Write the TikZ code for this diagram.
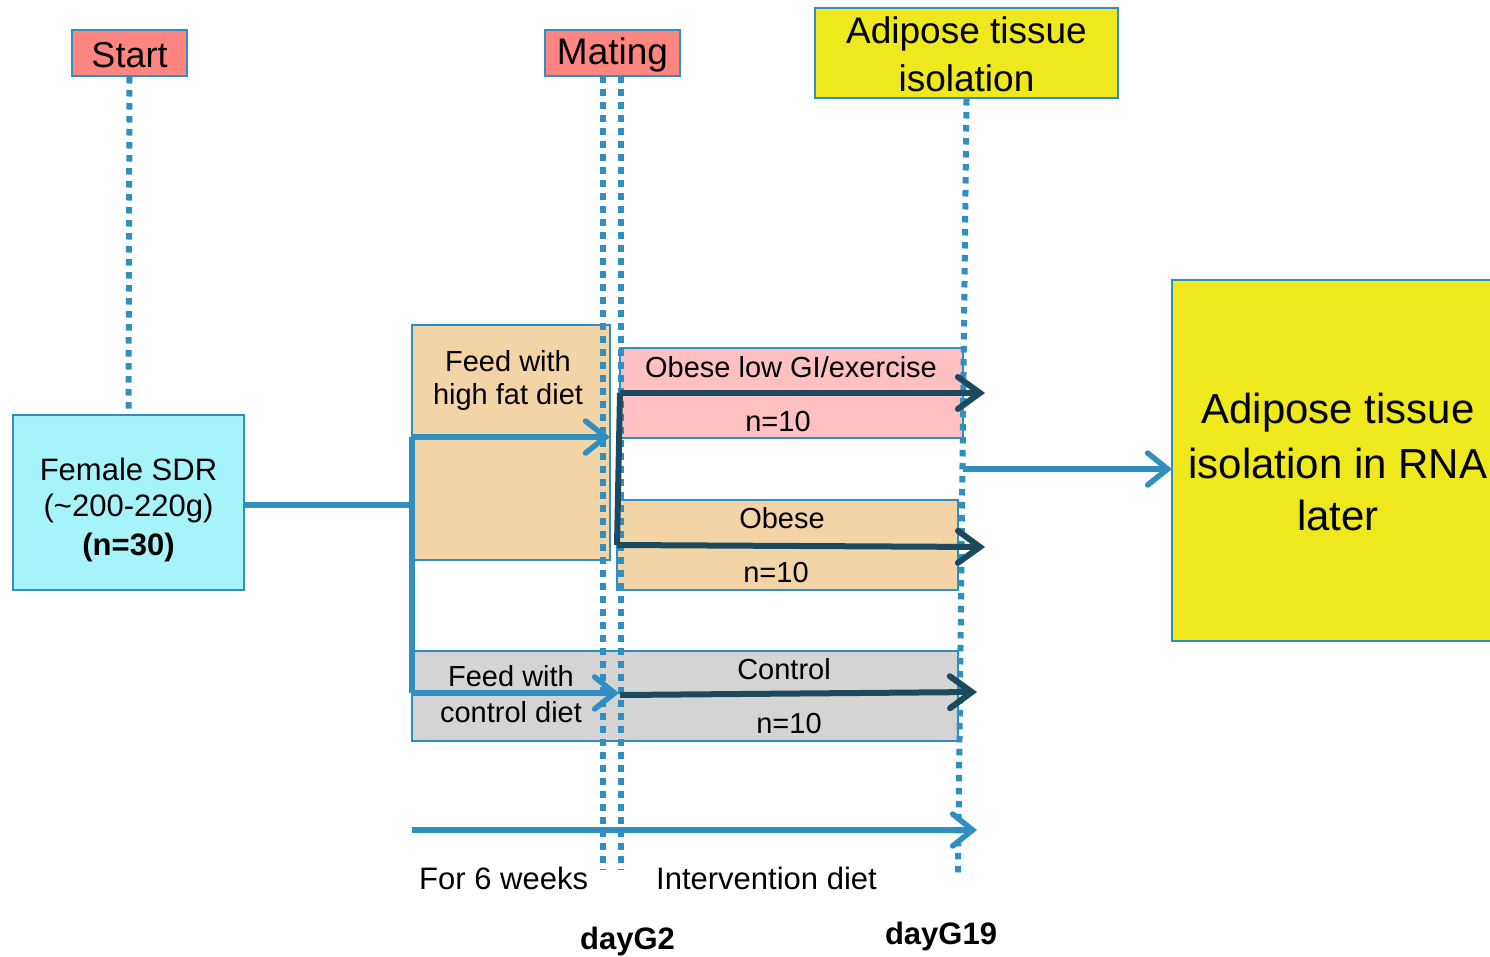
\documentclass[tikz,border=0pt]{standalone}
\usepackage{fontspec}
\setmainfont{Liberation Sans}
\usetikzlibrary{arrows.meta}
\definecolor{cblue}{HTML}{2E8FC0}
\definecolor{cdark}{HTML}{1B4A5E}
\definecolor{csalmon}{HTML}{FF8580}
\definecolor{cyellow}{HTML}{EEE81C}
\definecolor{ccyan}{HTML}{A6F4FA}
\definecolor{cwheat}{HTML}{F3D4A6}
\definecolor{cpink}{HTML}{FFC0C2}
\definecolor{cgray}{HTML}{D4D4D4}
\tikzset{
  box/.style={draw=cblue, line width=2pt, inner sep=0pt, rectangle},
  dotline/.style={draw=cblue, line width=6pt, dash pattern=on 6.5pt off 6.5pt},
  bline/.style={draw=cblue, line width=5.5pt},
  barrow/.style={bline, -{Straight Barb[length=20pt, width=32pt, line cap=round]}},
  darrow/.style={draw=cdark, line width=6pt, -{Straight Barb[length=22pt, width=32pt, line cap=round]}},
  lbl/.style={inner sep=0pt, align=center},
}
\newcommand{\fs}[1]{\fontsize{#1}{#1}\selectfont}
\begin{document}
\begin{tikzpicture}[x=1pt,y=-1pt]
\useasboundingbox (0,0) rectangle (1490,956);
% boxes
\node[box, fill=csalmon, minimum width=115, minimum height=46] (start) at (129.5,53) {};
\node[box, fill=csalmon, minimum width=135, minimum height=46] (mating) at (612.5,53) {};
\node[box, fill=cyellow, minimum width=303, minimum height=90] (adtop) at (966.5,53) {};
\node[box, fill=ccyan, minimum width=231, minimum height=175] (female) at (128.5,502.5) {};
\node[box, fill=cwheat, minimum width=198, minimum height=235] (highfat) at (511,442.5) {};
\node[box, fill=cpink, minimum width=343, minimum height=90] (lowgi) at (791.5,393) {};
\node[box, fill=cwheat, minimum width=341, minimum height=90] (obese) at (787.5,545) {};
\node[box, fill=cgray, minimum width=546, minimum height=90] (control) at (685,696) {};
\node[box, fill=cyellow, minimum width=330, minimum height=361] (rna) at (1337,460.5) {};
% texts
\node[lbl] (tstart) at (129.5,55) {\fs{36}Start};
\node[lbl] (tmating) at (612.5,55) {\fs{37}Mating};
\node[lbl] (tadtop1) at (966.5,34) {\fs{37}Adipose tissue};
\node[lbl] (tadtop2) at (966.5,78) {\fs{37}isolation};
\node[lbl] (tfem1) at (128.5,469) {\fs{31}Female SDR};
\node[lbl] (tfem2) at (128.5,508) {\fs{31}(\char`~200-220g)};
\node[lbl] (tfem3) at (128.5,547) {\fs{31}\bfseries (n=30)};
\node[lbl] (thf1) at (508,361) {\fs{29}Feed with};
\node[lbl] (thf2) at (508,397) {\fs{29}high fat diet};
\node[lbl] (tlg1) at (791,367) {\fs{29}Obese low GI/exercise};
\node[lbl] (tlg2) at (778,422) {\fs{29}n=10};
\node[lbl] (tob1) at (782,518) {\fs{29}Obese};
\node[lbl] (tob2) at (776,573) {\fs{29}n=10};
\node[lbl] (tco1) at (784,669) {\fs{29}Control};
\node[lbl] (tco2) at (789,724) {\fs{29}n=10};
\node[lbl] (tfc1) at (511,676) {\fs{29}Feed with};
\node[lbl] (tfc2) at (511,712) {\fs{29}control diet};
\node[lbl] (trna1) at (1338,413) {\fs{42}Adipose tissue};
\node[lbl] (trna2) at (1338,463) {\fs{42}isolation in RNA};
\node[lbl] (trna3) at (1338,515) {\fs{42}later};
\node[lbl, anchor=west] (t6w) at (419,878) {\fs{31}For 6 weeks};
\node[lbl, anchor=west] (tint) at (656,878) {\fs{31}Intervention diet};
\node[lbl] (tg2) at (627.5,941) {\fs{31}\bfseries dayG2};
\node[lbl] (tg19) at (941,936) {\fs{31}\bfseries dayG19};
% coordinates
\coordinate (m1t) at (603,76);
\coordinate (m1b) at (603,870);
\coordinate (m2t) at (621,76);
\coordinate (m2b) at (621,870);
\coordinate (a19b) at (958,875);
\coordinate (jm) at (412,505);
\coordinate (jt) at (412,437);
\coordinate (jb) at (412,693);
\coordinate (hfend) at (610,437);
\coordinate (cend) at (619,693);
\coordinate (d1) at (620,393);
\coordinate (d2) at (617,545);
\coordinate (d1e) at (985,393);
\coordinate (d2e) at (985,547);
\coordinate (d3) at (620,695);
\coordinate (d3e) at (977,692);
\coordinate (rs) at (963,469);
\coordinate (re) at (1172,469);
\coordinate (ts) at (412,830);
\coordinate (te) at (977,830);
% dotted lines
\draw[dotline] (start.south) -- (female.north);
\draw[dotline] (m1t) -- (m1b);
\draw[dotline] (m2t) -- (m2b);
\draw[dotline] (adtop.south) -- (a19b);
% blue connectors
\draw[bline] (female.east |- jm) -- (jm);
\draw[bline] (jt) -- (jb);
\draw[barrow] (jt) -- (hfend);
\draw[barrow] (jb) -- (cend);
\draw[barrow] (rs) -- (re);
\draw[barrow] (ts) -- (te);
% dark connectors
\draw[draw=cdark, line width=6pt] (d1) -- (d2);
\draw[darrow] (d1) -- (d1e);
\draw[darrow] (d2) -- (d2e);
\draw[darrow] (d3) -- (d3e);
\end{tikzpicture}
\end{document}
